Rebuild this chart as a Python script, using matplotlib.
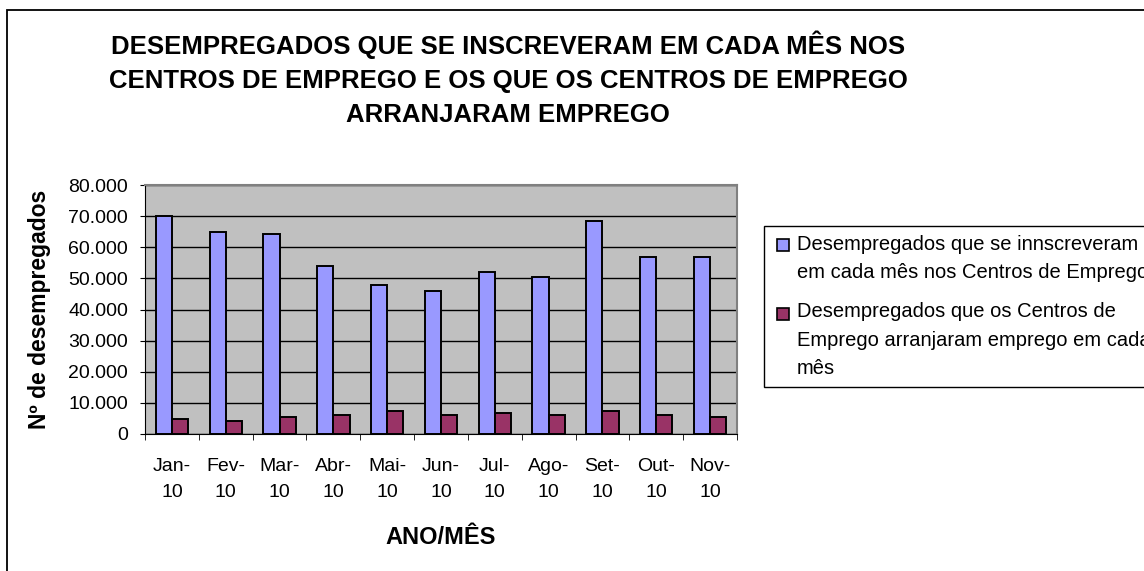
import numpy as np
import matplotlib
matplotlib.use('Agg')
import matplotlib.pyplot as plt
from matplotlib.patches import Rectangle

plt.rcParams['font.family'] = ['Liberation Sans', 'DejaVu Sans']

months = ['Jan-\n10', 'Fev-\n10', 'Mar-\n10', 'Abr-\n10', 'Mai-\n10', 'Jun-\n10',
          'Jul-\n10', 'Ago-\n10', 'Set-\n10', 'Out-\n10', 'Nov-\n10']
inscritos = [70000, 64900, 64300, 53900, 47900, 46000, 52100, 50300, 68500, 56900, 56900]
colocados = [4900, 4300, 5450, 6100, 7300, 6000, 6650, 6000, 7300, 6000, 5450]
label_inscritos = 'Desempregados que se innscreveram\nem cada mês nos Centros de Emprego'
label_colocados = 'Desempregados que os Centros de\nEmprego arranjaram emprego em cada\nmês'
cor_inscritos = '#9999FF'
cor_colocados = '#993366'

W, H = 1144, 571
fig = plt.figure(figsize=(W / 100, H / 100), dpi=100)


def px(x, y):
    # pixel position (from top-left) -> figure fraction
    return x / W, 1 - y / H


# outer chart border
fig.patches.append(Rectangle(px(7, 600), 1.2, (600 - 10) / H, transform=fig.transFigure,
                             fill=False, edgecolor='black', linewidth=1.3))

left, right, top, bottom = 145, 737, 185, 434
ax = fig.add_axes([left / W, 1 - bottom / H, (right - left) / W, (bottom - top) / H])
ax.set_facecolor('#C0C0C0')

x = np.arange(len(months))
w = 0.3
ax.bar(x - w / 2, inscritos, w, color=cor_inscritos, edgecolor='black', linewidth=1.4, zorder=3)
ax.bar(x + w / 2, colocados, w, color=cor_colocados, edgecolor='black', linewidth=1.4, zorder=3)

ax.set_xlim(-0.5, len(months) - 0.5)
ax.set_ylim(0, 80000)
ax.set_yticks(range(0, 80001, 10000))
ax.set_yticklabels(['0'] + ['{:,}'.format(v).replace(',', '.') for v in range(10000, 80001, 10000)],
                   fontsize=14)
ax.yaxis.grid(True, color='black', linewidth=1, zorder=1)

ax.set_xticks(x)
ax.set_xticklabels(months, fontsize=14, linespacing=1.69)
ax.tick_params(axis='x', length=0, pad=17.5)
ax.set_xticks(np.arange(-0.5, len(months)), minor=True)
ax.tick_params(axis='x', which='minor', length=4.3, direction='out', color='black')
ax.tick_params(axis='y', length=3.6, direction='out', color='black', pad=8.6)

ax.spines['top'].set_color('#808080')
ax.spines['right'].set_color('#808080')
ax.spines['top'].set_linewidth(1.5)
ax.spines['right'].set_linewidth(1.5)

ax.set_xlabel('ANO/MÊS', fontsize=17, fontweight='bold')
ax.xaxis.set_label_coords(0.5, -0.369)
ax.set_ylabel('Nº de desempregados', fontsize=16.5, fontweight='bold')
ax.yaxis.set_label_coords(-0.158, 0.5)

fig.text(*px(508, 78.5),
         'DESEMPREGADOS QUE SE INSCREVERAM EM CADA MÊS NOS\n'
         'CENTROS DE EMPREGO E OS QUE OS CENTROS DE EMPREGO\n'
         'ARRANJARAM EMPREGO',
         ha='center', va='center', fontsize=18.5, fontweight='bold', linespacing=1.53)

# legend box (handles sit next to the first line of each label)
lx, ly = px(764, 387)
fig.patches.append(Rectangle((lx, ly), 1.0, (387 - 226) / H, transform=fig.transFigure,
                             facecolor='white', edgecolor='black', linewidth=1))
for cor, label, y_first, y_last in [(cor_inscritos, label_inscritos, 245, 271),
                                    (cor_colocados, label_colocados, 314, 367)]:
    sx, sy = px(777, y_first + 6)
    fig.patches.append(Rectangle((sx, sy), 12 / W, 12 / H, transform=fig.transFigure,
                                 facecolor=cor, edgecolor='black', linewidth=1.2))
    fig.text(*px(797, y_last + 7), label, ha='left', va='baseline', fontsize=14.5, linespacing=1.63)

fig.savefig('out.png', dpi=100)
